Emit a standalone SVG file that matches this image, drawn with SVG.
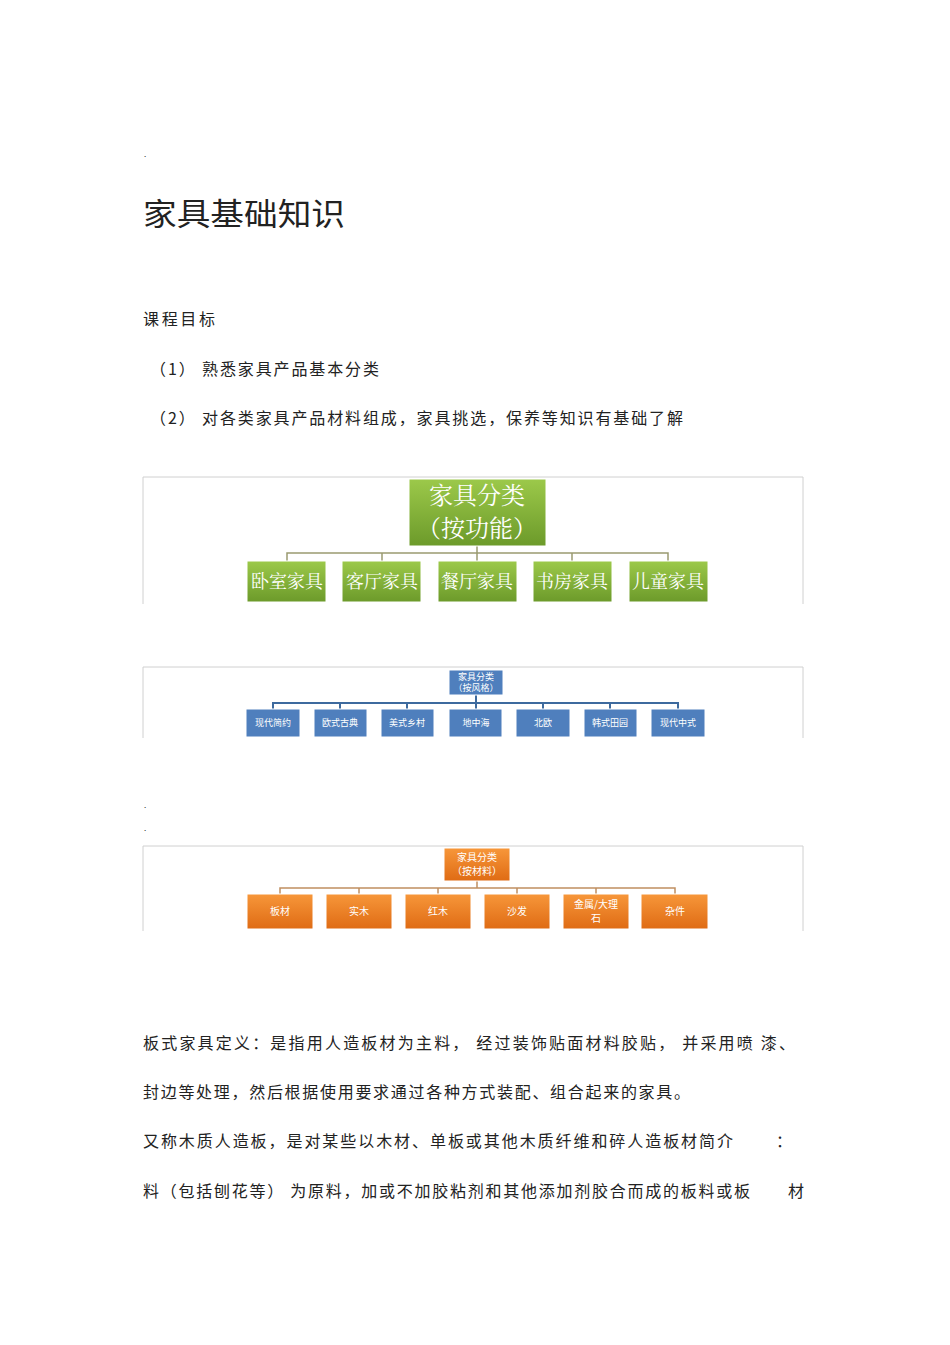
<svg xmlns="http://www.w3.org/2000/svg" width="950" height="1345" viewBox="0 0 950 1345">
<defs>
<linearGradient id="gG" x1="0" y1="0" x2="0" y2="1"><stop offset="0" stop-color="#9cc94a"/><stop offset="1" stop-color="#6c9a2a"/></linearGradient>
<linearGradient id="gO" x1="0" y1="0" x2="0" y2="1"><stop offset="0" stop-color="#f7973a"/><stop offset="1" stop-color="#df6b14"/></linearGradient>
</defs>
<style>
text{font-family:"Noto Sans CJK SC","Noto Sans",sans-serif;fill:#222}
.frame{fill:none;stroke:#d0d0d0;stroke-width:1}
.g rect{fill:url(#gG);stroke:#fff;stroke-width:1}
.g text{fill:#fff;text-anchor:middle;font-family:"Noto Serif CJK SC","Noto Sans CJK SC",serif}
.b rect{fill:#4f7fbd;stroke:#fff}
.b text{fill:#fff;text-anchor:middle;font-size:9px}
.o rect{fill:url(#gO);stroke:#fff}
.o text{fill:#fff;text-anchor:middle;font-size:10px}
.cg{fill:none;stroke:#9a9a70;stroke-width:1.5}
.cb{fill:none;stroke:#3d6a9e;stroke-width:2}
.co{fill:none;stroke:#c08f60;stroke-width:1.5}
</style>
<text x="144" y="157" font-size="8">.</text>
<text x="143" y="225" font-size="31" textLength="202" lengthAdjust="spacingAndGlyphs">家具基础知识</text>
<text x="143" y="325" font-size="16" textLength="72">课程目标</text>
<text x="150" y="375" font-size="16" textLength="229">（1）  熟悉家具产品基本分类</text>
<text x="150" y="424" font-size="16" textLength="533">（2）  对各类家具产品材料组成，家具挑选，保养等知识有基础了解</text>

<path class="frame" d="M143,604V477H803V604"/>
<g id="conn1" class="cg"><path d="M477,546V553M287,561V553H668V561M382,553V561M477,553V561M572,553V561"/></g>
<g class="g">
<g id="n1root"><rect x="409" y="479" width="137" height="67"/><text x="477" y="504" font-size="24">家具分类</text><text x="477" y="537" font-size="24">（按功能）</text></g>
<g id="n1a"><rect x="247" y="561" width="79" height="41"/><text x="287" y="588" font-size="18">卧室家具</text></g>
<g id="n1b"><rect x="342" y="561" width="79" height="41"/><text x="382" y="588" font-size="18">客厅家具</text></g>
<g id="n1c"><rect x="438" y="561" width="79" height="41"/><text x="477" y="588" font-size="18">餐厅家具</text></g>
<g id="n1d"><rect x="533" y="561" width="79" height="41"/><text x="572" y="588" font-size="18">书房家具</text></g>
<g id="n1e"><rect x="629" y="561" width="79" height="41"/><text x="668" y="588" font-size="18">儿童家具</text></g>
</g>

<path class="frame" d="M143,738V667H803V738"/>
<g id="conn2" class="cb"><path d="M476,695V703M273,709V703H678V709M340,703V709M407,703V709M476,703V709M543,703V709M610,703V709"/></g>
<g class="b">
<g id="n2root"><rect x="449" y="670" width="54" height="25"/><text x="476" y="680">家具分类</text><text x="476" y="691">（按风格）</text></g>
<g id="n2a"><rect x="246" y="709" width="54" height="28"/><text x="273" y="726">现代简约</text></g>
<g id="n2b"><rect x="314" y="709" width="53" height="28"/><text x="340" y="726">欧式古典</text></g>
<g id="n2c"><rect x="381" y="709" width="53" height="28"/><text x="407" y="726">美式乡村</text></g>
<g id="n2d"><rect x="449" y="709" width="53" height="28"/><text x="476" y="726">地中海</text></g>
<g id="n2e"><rect x="516" y="709" width="54" height="28"/><text x="543" y="726">北欧</text></g>
<g id="n2f"><rect x="584" y="709" width="53" height="28"/><text x="610" y="726">韩式田园</text></g>
<g id="n2g"><rect x="651" y="709" width="54" height="28"/><text x="678" y="726">现代中式</text></g>
</g>

<text x="144" y="808" font-size="8">.</text>
<text x="144" y="831" font-size="8">.</text>

<path class="frame" d="M143,931V846H803V931"/>
<g id="conn3" class="co"><path d="M477,881V888M280,894V888H675V894M359,888V894M438,888V894M517,888V894M596,888V894"/></g>
<g class="o">
<g id="n3root"><rect x="444" y="848" width="66" height="33"/><text x="477" y="861">家具分类</text><text x="477" y="875">（按材料）</text></g>
<g id="n3a"><rect x="247" y="894" width="66" height="35"/><text x="280" y="915">板材</text></g>
<g id="n3b"><rect x="326" y="894" width="66" height="35"/><text x="359" y="915">实木</text></g>
<g id="n3c"><rect x="405" y="894" width="66" height="35"/><text x="438" y="915">红木</text></g>
<g id="n3d"><rect x="484" y="894" width="66" height="35"/><text x="517" y="915">沙发</text></g>
<g id="n3e"><rect x="563" y="894" width="66" height="35"/><text x="596" y="908">金属/大理</text><text x="596" y="922">石</text></g>
<g id="n3f"><rect x="641" y="894" width="67" height="35"/><text x="675" y="915">杂件</text></g>
</g>

<text x="143" y="1049" font-size="16" textLength="652">板式家具定义：是指用人造板材为主料，  经过装饰贴面材料胶贴，  并采用喷   漆、</text>
<text x="143" y="1098" font-size="16" textLength="547">封边等处理，然后根据使用要求通过各种方式装配、组合起来的家具。</text>
<text x="143" y="1147" font-size="16" textLength="590">又称木质人造板，是对某些以木材、单板或其他木质纤维和碎人造板材简介</text>
<text x="776" y="1147" font-size="16">：</text>
<text x="143" y="1197" font-size="16" textLength="607">料（包括刨花等） 为原料，加或不加胶粘剂和其他添加剂胶合而成的板料或板</text>
<text x="788" y="1197" font-size="16">材</text>
</svg>
